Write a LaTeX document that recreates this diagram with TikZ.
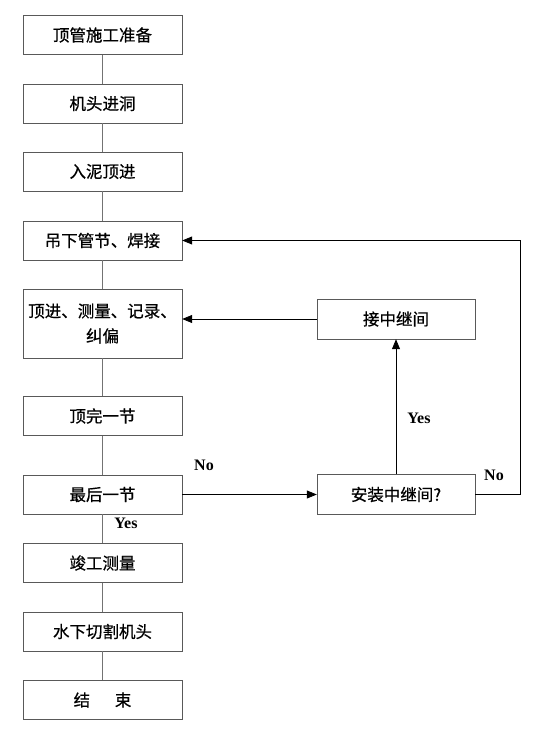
\documentclass[tikz,border=0pt]{standalone}
\usepackage{fontspec}
\setmainfont{Liberation Serif}
\newfontfamily\cjk[FakeBold=0.6]{Noto Sans CJK SC}
\usetikzlibrary{positioning}
\usetikzlibrary{arrows.meta}
\tikzset{
    stepbox/.style = {rectangle, draw=black!65, minimum width=159pt, minimum height=39pt, align=center, fill=white, font=\cjk\fontsize{16.5}{25}\selectfont},
    sidebox/.style = {stepbox, minimum width=158pt, minimum height=40pt},
    edgel/.style = {draw=black!55, line width=0.9pt},
    edgea/.style = {-{Triangle[length=10pt,width=8pt]}, line width=0.8pt, black},
    yesno/.style = {font=\bfseries\fontsize{16}{16}\selectfont}
}

\begin{document}
\begin{tikzpicture}[x=1pt, y=-1pt]
  \useasboundingbox (0,0) rectangle (553,733);

  % main column
  \node[stepbox] (b1) at (102.5, 35)    {顶管施工准备};
  \node[stepbox] (b2) at (102.5, 103.5) {机头进洞};
  \node[stepbox] (b3) at (102.5, 171.5) {入泥顶进};
  \node[stepbox] (b4) at (102.5, 240.5) {吊下管节、焊接};
  \node[stepbox, minimum height=69pt, inner xsep=1pt] (b5) at (102.5, 323.5) {顶进、测量、记录、\\纠偏};
  \node[stepbox] (b6) at (102.5, 416)   {顶完一节};
  \node[stepbox] (b7) at (102.5, 494.5) {最后一节};
  \node[stepbox] (b8) at (102.5, 563)   {竣工测量};
  \node[stepbox] (b9) at (102.5, 631.5) {水下切割机头};
  \node[stepbox] (b10) at (102.5, 700)  {结\hspace{1.5em}束};

  % side branch
  \node[sidebox] (k1) at (396, 319)   {接中继间};
  \node[sidebox] (k2) at (396, 494.5) {安装中继间?};
  \coordinate (rt) at (520, 240.5);

  \draw[edgel] (b1) -- (b2);
  \draw[edgel] (b2) -- (b3);
  \draw[edgel] (b3) -- (b4);
  \draw[edgel] (b4) -- (b5);
  \draw[edgel] (b5) -- (b6);
  \draw[edgel] (b6) -- (b7);
  \draw[edgel] (b7) -- (b8);
  \draw[edgel] (b8) -- (b9);
  \draw[edgel] (b9) -- (b10);

  \draw[edgea] (b7.east) -- (k2.west);
  \draw[edgea] (k2.north) -- (k1.south);
  \draw[edgea] (k1.west) -- (k1.west -| b5.east);
  \draw[edgea] (k2.east) -| (rt) -- (b4.east);

  \node[yesno] (n1) at (204, 465) {No};
  \node[yesno] (y1) at (419, 418) {Yes};
  \node[yesno] (n2) at (494, 475) {No};
  \node[yesno] (y2) at (126, 523) {Yes};
\end{tikzpicture}
\end{document}
